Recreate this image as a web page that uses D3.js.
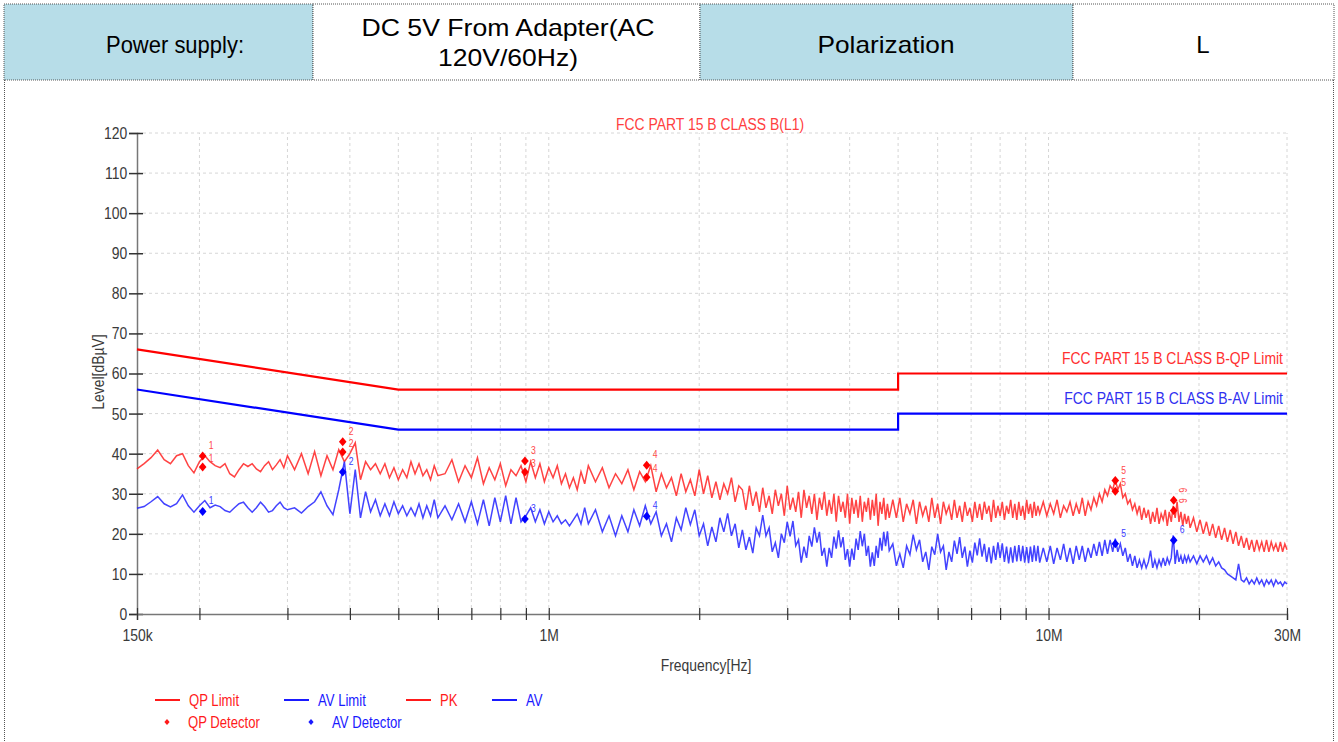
<!DOCTYPE html>
<html><head><meta charset="utf-8">
<script src="https://cdn.jsdelivr.net/npm/d3@7"></script>
<style>
html,body{margin:0;padding:0;background:#fff;}
svg{display:block;}
</style></head>
<body>
<svg id="chart" width="1338" height="742"></svg>
<script>
// ---------------- DATA ----------------
// sweep frequencies (MHz)
const freqMHz = [
0.150,0.155,0.160,0.165,0.170,0.175,0.180,0.185,0.190,0.195,0.200,0.205,0.210,0.215,0.220,0.225,0.230,0.235,0.240,0.245,0.250,0.255,0.260,0.265,0.270,0.275,0.280,0.285,0.290,0.295,0.300,
0.31,0.32,0.33,0.34,0.35,0.36,0.37,0.38,0.39,0.40,0.41,0.42,0.43,0.44,0.45,0.46,0.47,0.48,0.49,0.50,0.51,0.52,0.53,0.54,0.55,0.56,0.57,0.58,0.59,0.60,
0.62,0.64,0.66,0.68,0.70,0.72,0.74,0.76,0.78,0.80,0.82,0.84,0.86,0.88,0.90,0.92,0.94,0.96,0.98,1.00,1.02,1.04,1.06,1.08,1.10,1.12,1.14,1.16,1.18,1.20,
1.24,1.28,1.32,1.36,1.40,1.44,1.48,1.52,1.56,1.60,1.64,1.68,1.72,1.76,1.80,1.84,1.88,1.92,1.96,2.00,2.04,2.08,2.12,2.16,2.20,2.24,2.28,2.32,2.36,2.40,
2.44,2.48,2.52,2.56,2.60,2.64,2.68,2.72,2.76,2.80,2.84,2.88,2.92,2.96,3.00,3.04,3.08,3.12,3.16,3.20,3.24,3.28,3.32,3.36,3.40,3.44,3.48,3.52,3.56,3.60,
3.64,3.68,3.72,3.76,3.80,3.84,3.88,3.92,3.96,4.00,4.04,4.08,4.12,4.16,4.20,4.24,4.28,4.32,4.36,4.40,4.44,4.48,4.52,4.56,4.60,4.64,4.68,4.72,4.76,4.80,
4.88,4.96,5.04,5.12,5.20,5.28,5.36,5.44,5.52,5.60,5.68,5.76,5.84,5.92,6.00,6.08,6.16,6.24,6.32,6.40,6.48,6.56,6.64,6.72,6.80,6.88,6.96,7.04,7.12,7.20,
7.28,7.36,7.44,7.52,7.60,7.68,7.76,7.84,7.92,8.00,8.08,8.16,8.24,8.32,8.40,8.48,8.56,8.64,8.72,8.80,8.88,8.96,9.04,9.12,9.20,9.28,9.36,9.44,9.52,9.60,
9.76,9.92,10.08,10.24,10.40,10.56,10.72,10.88,11.04,11.20,11.36,11.52,11.68,11.84,12.00,12.16,12.32,12.48,12.64,12.80,12.96,13.12,13.28,13.44,13.60,13.76,13.92,14.08,14.24,14.40,
14.56,14.72,14.88,15.04,15.20,15.36,15.52,15.68,15.84,16.00,16.16,16.32,16.48,16.64,16.80,16.96,17.12,17.28,17.44,17.60,17.76,17.92,18.08,18.24,18.40,18.56,18.72,18.88,19.04,19.20,
19.5,19.8,20.1,20.4,20.7,21.0,21.3,21.6,21.9,22.2,22.5,22.8,23.1,23.4,23.7,24.0,24.3,24.6,24.9,25.2,25.5,25.8,26.1,26.4,26.7,27.0,27.3,27.6,27.9,28.2,28.5,28.8,29.1,29.4,29.7,30.0
];
// PK trace (dBuV)
const pkLevel = [
36.2,37.5,39,40.9,38.5,37.5,39.5,40,37,35.2,38,39.5,38,37,36.5,37.5,35,34.2,36,37.5,36.8,37.5,36.2,35.5,37,38,36,37.2,38.5,36.5,39.5,
36,40,35,40.5,34.5,39.5,36,41,38,40,42.7,33.5,38,36,37.5,35,37.5,34,36.5,33.5,36,34,38,35,37.5,34.5,36,33.5,37,34.5,
35,38.5,33,37,34,39,32.5,36.5,33.5,37.5,32,36,34.5,37,33,38,34,37.5,33,36.5,34,37,32.5,35,31.5,34,31,35.5,32.5,37,
33,36.5,31.5,35,32.5,36,31,35.5,33,37,30.5,35,31.5,34,29.5,35,30.5,33.5,29.5,36,30,34.5,29,33,28.5,32.5,30,34,28,32,
31,26,32,27,30.5,25.5,31.5,26.5,29.5,25,31,27,30,24.5,32,26,29,25.5,30.5,24,31,26.5,29.5,25,30,23.5,29,26,30.5,24.5,
28.5,25,30,23,29.5,25.5,28,24,30,22.5,29,25,28.5,24,29.5,23,28,25.5,29,23.5,28.5,24.5,30,22,28,25,29,23.5,27.5,24,
28.5,24,29,23,27.5,25,28.5,22.5,28,24.5,27,23,29,24,27.5,22.5,28,25,27,23.5,28.5,24,27,23,28,24.5,26.5,23,28,24,
27.5,23.5,28,25,27,23,28.5,24,27,24.5,28,23.5,27,25,28.5,24,27.5,23.5,28,24.5,27,23.5,28.5,25,27.5,24,28,24.5,27,25,
28,24.5,27.5,25,28.5,24,27,25.5,28,24.5,27.5,25,29,24.5,28,26,29,27,30,28,31,29.5,32,31,33.5,31,32.5,29,30,27.5,
28.5,26,27.5,25,27,23.5,26.5,24,26,22.5,25.5,23,26.5,22.5,25,23.5,26,22,25.5,23,27,24,28,23,25.5,22,25,22.5,24.5,21.5,
24,20.5,23.5,20,23,19.5,22.5,19,22,18.5,21.5,18,21,17.5,20.5,17,19.5,16.5,19,16,18.5,15.5,18.5,16,18,15.5,18.5,15.5,18,16,17.5,15.5,18,15.5,17.5,16
];
// AV trace (dBuV)
const avLevel = [
26.4,26.8,28,29.3,27.5,26.7,27.5,29.7,27,25.4,27,28.3,26.5,27.2,26.8,25.8,25.4,26.5,27.5,27.9,26.5,25.4,26.5,27.9,26.8,25.4,25.8,27,27.9,26.5,26,
26.5,25.2,26.8,28,30.5,27,24.8,31,38,25,36,24,30.5,25.5,28.5,24.5,27.5,24.5,28,25,27,24.5,26.5,24.5,27.5,24,27,24.5,28.5,24,
27,23.5,27.5,23,28,22.5,28.5,22,29,23,29.5,22.5,29,23,24.5,26.5,23,26,22.5,25.5,23,24.5,22.5,23.5,22,23.5,25,22.5,26.5,22.5,
26,20.5,24.5,19.5,24.5,20.5,26,22,27,22.5,25.5,19.5,22.5,18,24,21,26.5,22.3,26,19.5,22.5,17,21.7,18,24,20.5,25.1,19.5,22.5,16.5,
21,16,19.2,15.2,21.5,19.5,24.7,19.5,21.5,15.5,17.8,14,20,17.8,23,19.4,23.2,17,18.5,12.8,16.8,14,19.5,16.8,21.6,17.8,20.5,14.5,16.5,11.8,
16.5,14,19.3,16.3,20.9,16.6,19.2,13.5,16.2,11.8,16.3,13.5,18.8,16,20.7,16.9,20,14.5,17,11.8,15.4,12,17,14,19,15.8,20.5,16.9,20.6,15.8,
17.5,12,15,11.5,17,14.8,19.8,16,18.5,13,15.5,11,16.8,14.8,20,15.5,17,11,15.5,13,18.3,15,19.2,14,16.8,11.8,15.8,12.8,17.8,14.6,
18.9,14.3,17.5,13,16.6,12.6,17,13.5,17.9,14,17.6,13,16.8,12.6,16.6,12.8,17,13.1,17.2,13.2,17,12.8,16.7,12.7,16.8,13,17.1,13.2,17,12.8,
16.5,13,17,12.5,16.5,13.5,17.5,13,16.5,12.5,17,13.5,17,13,16.5,14,17.5,14.5,18,14.5,18.5,15,18.5,15.5,18.8,15.5,17.5,14.5,16.5,13,
15,12,14.5,11.5,13.5,11.5,13.5,11.5,13,15.8,11.5,13.5,11.5,13.5,12,14,12,14,12.5,14,19.6,12.5,16,13,14.5,12.5,14.5,13,14.5,13,
14.5,12.5,14.5,13,14.5,12.5,14,12,13,11.5,11,10,9.5,9,8.5,12.5,8.5,8,9,7.5,8.5,7.5,9,7.5,8.5,7,8.5,7.5,8.5,7,8.5,7.5,8,7,8,7.5
];
// Limits
const qpLimitFreq = [0.15, 0.5, 5, 5, 30];
const qpLimitLevel = [66, 56, 56, 60, 60];
const avLimitFreq = [0.15, 0.5, 5, 5, 30];
const avLimitLevel = [56, 46, 46, 50, 50];
// Detector results
const markerIds = ["1","2","3","4","5","6"];
const markerFreq = [0.203, 0.387, 0.896, 1.57, 13.6, 17.8];
const qpDetUpper = [39.4, 43.0, 38.2, 37.1, 33.3, 28.4];
const qpDetLower = [36.7, 40.4, 35.4, 34.1, 30.6, 25.8];
const avDet = [25.6, 35.4, 23.7, 24.4, 17.5, 18.4];
// Axes
const yTicks = [0,10,20,30,40,50,60,70,80,90,100,110,120];
const xTicks = [0.15,0.2,0.3,0.4,0.5,0.6,0.7,0.8,0.9,1,2,3,4,5,6,7,8,9,10,20,30];
const xTickLabelFreq = [0.15, 1, 10, 30];
const xTickLabelText = ["150k", "1M", "10M", "30M"];
// Header texts
const headerLabels = [["Power supply:"], ["DC 5V From Adapter(AC", "120V/60Hz)"], ["Polarization"], ["L"]];
const titleText = "FCC PART 15 B CLASS B(L1)";
const qpLimitName = "FCC PART 15 B CLASS B-QP Limit";
const avLimitName = "FCC PART 15 B CLASS B-AV Limit";
const legendLineNames = ["QP Limit", "AV Limit", "PK", "AV"];
const legendMarkNames = ["QP Detector", "AV Detector"];

// ---------------- DRAW ----------------
const SF = "'Liberation Sans',Arial,sans-serif";
const SX = 0.82; // narrow (condensed) text
const svg = d3.select("#chart");

function ntext(parent, x, y, str, size, color, anchor, rot) {
  return parent.append("text")
    .attr("transform", `translate(${x},${y})${rot ? ` rotate(${rot})` : ""} scale(${SX},1)`)
    .attr("text-anchor", anchor || "start")
    .attr("font-family", SF).attr("font-size", size).attr("fill", color).text(str);
}

// header table
const cells = [
  {x0:4, x1:313, fill:"#b7dde8", cx:175, widths:[138], base:[53]},
  {x0:313, x1:700, fill:"#ffffff", cx:508, widths:[293,140], base:[36,66]},
  {x0:700, x1:1073, fill:"#b7dde8", cx:886, widths:[137], base:[53]},
  {x0:1073, x1:1334, fill:"#ffffff", cx:1203, widths:[null], base:[53]}
];
const hTop = 4, hBot = 80;
cells.forEach((c,i) => {
  svg.append("rect").attr("x",c.x0).attr("y",hTop).attr("width",c.x1-c.x0).attr("height",hBot-hTop)
    .attr("fill",c.fill).attr("stroke","#555").attr("stroke-width",1).attr("stroke-dasharray","1,1");
  headerLabels[i].forEach((t,j) => {
    const tx = svg.append("text").attr("x",c.cx).attr("y",c.base[j])
      .attr("text-anchor","middle").attr("font-family",SF).attr("font-size",24).attr("fill","#000").text(t);
    if (c.widths[j]) tx.attr("textLength",c.widths[j]).attr("lengthAdjust","spacingAndGlyphs");
  });
});
// outer frame of chart section
svg.append("line").attr("x1",4.5).attr("x2",4.5).attr("y1",hBot).attr("y2",742)
  .attr("stroke","#555").attr("stroke-dasharray","1,1");
svg.append("line").attr("x1",1333.5).attr("x2",1333.5).attr("y1",hBot).attr("y2",742)
  .attr("stroke","#555").attr("stroke-dasharray","1,1");

// scales
const x = d3.scaleLog().domain([0.15, 30]).range([137, 1287]);
const y = d3.scaleLinear().domain([0, 120]).range([614, 133]);

const g = svg.append("g");
// grid
g.selectAll(".vg").data(xTicks.slice(1)).join("line")
  .attr("x1",d=>x(d)).attr("x2",d=>x(d)).attr("y1",y(0)).attr("y2",y(120))
  .attr("stroke","#d6d6d6").attr("stroke-dasharray","3,3");
g.selectAll(".hg").data(yTicks.slice(1)).join("line")
  .attr("x1",x(0.15)).attr("x2",x(30)).attr("y1",d=>y(d)).attr("y2",d=>y(d))
  .attr("stroke","#d6d6d6").attr("stroke-dasharray","3,3");

// axes
const yAxis = d3.axisLeft(y).tickValues(yTicks).tickSize(8).tickPadding(4);
const ya = g.append("g").attr("transform",`translate(${x(0.15)},0)`).call(yAxis);
ya.select(".domain").attr("stroke","#777").attr("stroke-width",1.5);
ya.selectAll(".tick line").attr("x1",6).attr("stroke","#333").attr("stroke-width",1.5);
ya.selectAll(".tick text").attr("font-family",SF).attr("font-size",17).attr("fill","#3a3a3a")
  .attr("transform",`scale(${SX},1)`);

const xAxis = d3.axisBottom(x).tickValues(xTicks).tickSize(6)
  .tickFormat(d => { const k = xTickLabelFreq.indexOf(d); return k>=0 ? xTickLabelText[k] : ""; });
const xa = g.append("g").attr("transform",`translate(0,${y(0)})`).call(xAxis);
xa.select(".domain").attr("stroke","#777").attr("stroke-width",1.5);
xa.selectAll(".tick line").attr("y1",-6).attr("stroke","#333").attr("stroke-width",1.2);
xa.selectAll(".tick text").attr("font-family",SF).attr("font-size",17).attr("fill","#3a3a3a")
  .attr("dy","1.05em").attr("transform",`scale(${SX},1)`);

// axis titles
ntext(svg, 706, 671, "Frequency[Hz]", 17, "#3a3a3a", "middle");
ntext(svg, 104, 372, "Level[dBµV]", 17, "#3a3a3a", "middle", -90);
// chart title
ntext(svg, 710, 130, titleText, 17, "#ff4040", "middle");

// traces
const line = d3.line().x(d=>x(d[0])).y(d=>y(d[1]));
const n = Math.min(freqMHz.length, pkLevel.length, avLevel.length);
const pkPts = d3.range(n).map(i=>[freqMHz[i], pkLevel[i]]);
const avPts = d3.range(n).map(i=>[freqMHz[i], avLevel[i]]);
g.append("path").attr("d",line(pkPts)).attr("fill","none").attr("stroke","#ff2222").attr("stroke-opacity",0.85).attr("stroke-width",1.5);
g.append("path").attr("d",line(avPts)).attr("fill","none").attr("stroke","#2222ff").attr("stroke-opacity",0.85).attr("stroke-width",1.5);

// limits
const qpL = qpLimitFreq.map((f,i)=>[f, qpLimitLevel[i]]);
const avL = avLimitFreq.map((f,i)=>[f, avLimitLevel[i]]);
g.append("path").attr("d",line(qpL)).attr("fill","none").attr("stroke","#ff0000").attr("stroke-width",2.2);
g.append("path").attr("d",line(avL)).attr("fill","none").attr("stroke","#0000ff").attr("stroke-width",2.2);
ntext(g, x(30)-4, y(60)-10, qpLimitName, 17, "#ff3030", "end");
ntext(g, x(30)-4, y(50)-10, avLimitName, 17, "#3030f0", "end");

// detector markers
const diamond = "M0,-4.5L3.8,0L0,4.5L-3.8,0Z";
function marks(vals, color, labColor, dyLab) {
  vals.forEach((v,i) => {
    const px = x(markerFreq[i]), py = y(v);
    g.append("path").attr("d",diamond).attr("transform",`translate(${px},${py})`).attr("fill",color);
    if (markerIds[i] === "6" && color === "#ff0000") {
      ntext(g, px+5, py-10, markerIds[i], 10.5, labColor, "middle", 90);
    } else {
      ntext(g, px+6, py+dyLab, markerIds[i], 10.5, labColor, "start");
    }
  });
}
marks(qpDetUpper, "#ff0000", "#ff4a4a", -7);
marks(qpDetLower, "#ff0000", "#ff4a4a", -5);
marks(avDet, "#0000ff", "#3a3aff", -7);

// legend
const lg = svg.append("g");
const legendLineX = [155, 284, 406, 492];
const legendColors = ["#ff1a1a", "#1a1aff", "#ff1a1a", "#1a1aff"];
legendLineNames.forEach((nm,i) => {
  lg.append("line").attr("x1",legendLineX[i]).attr("x2",legendLineX[i]+25).attr("y1",700).attr("y2",700)
    .attr("stroke",legendColors[i]).attr("stroke-width",2);
  ntext(lg, legendLineX[i]+34, 705.5, nm, 16, legendColors[i], "start");
});
const legendMarkX = [167, 311];
legendMarkNames.forEach((nm,i) => {
  lg.append("path").attr("d","M0,-3L2.6,0L0,3L-2.6,0Z").attr("transform",`translate(${legendMarkX[i]},722)`).attr("fill",legendColors[i]);
  ntext(lg, legendMarkX[i]+21, 727.5, nm, 16, legendColors[i], "start");
});
</script>
</body></html>
